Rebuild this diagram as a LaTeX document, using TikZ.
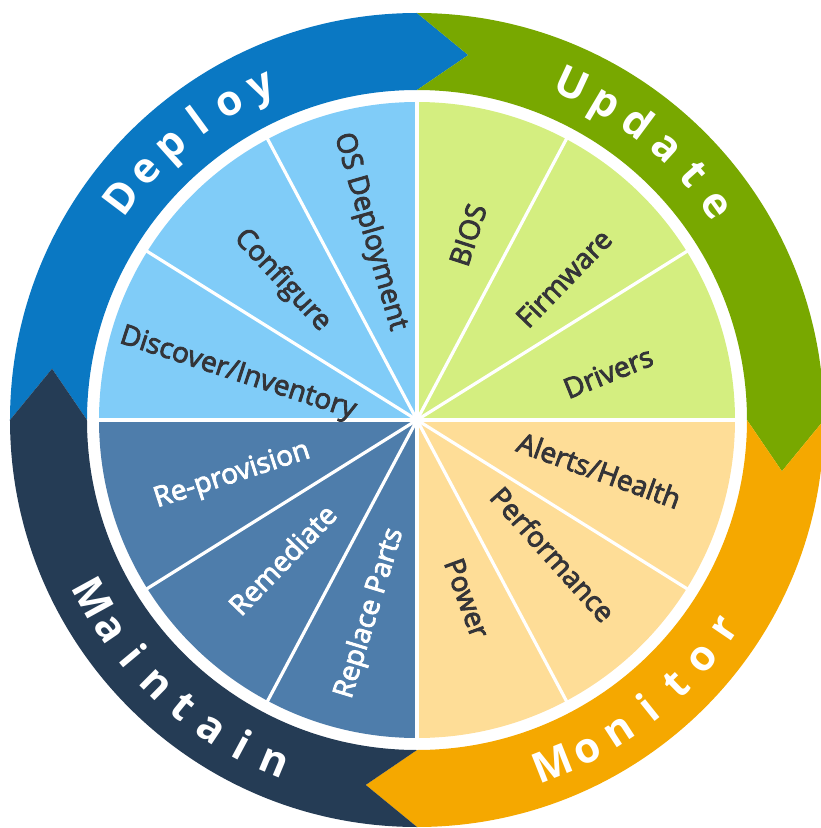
\documentclass[tikz,border=0pt]{standalone}
\usepackage{fontspec}
\setmainfont{Open Sans}
\newfontfamily\mediumfont[FakeBold=3]{Open Sans}
\definecolor{deployblue}{RGB}{10,120,195}
\definecolor{updategreen}{RGB}{120,168,0}
\definecolor{monitororange}{RGB}{245,168,0}
\definecolor{maintainnavy}{RGB}{37,60,85}
\definecolor{pieblue}{RGB}{128,204,248}
\definecolor{piegreen}{RGB}{212,238,128}
\definecolor{piepeach}{RGB}{254,221,151}
\definecolor{piesteel}{RGB}{78,125,171}
\definecolor{labelgray}{RGB}{52,52,56}
\begin{document}
\begin{tikzpicture}[x=1pt, y=1pt,
    wedgelabel/.style={font=\mediumfont\fontsize{28}{30}\selectfont, text=labelgray, inner sep=0pt},
    darklabel/.style={wedgelabel, text=white},
    ringletter/.style={font=\fontsize{42}{44}\selectfont\bfseries, text=white, inner sep=0pt, anchor=base},
    spoke/.style={white, line width=3.2pt}]
  \useasboundingbox (-417,-408) rectangle (403,420);

  % outer ring, one arrow per phase
  \foreach \a/\col in {180/deployblue, 90/updategreen, 0/monitororange, -90/maintainnavy}
    \fill[\col] (\a:407) arc[start angle=\a, end angle=\a-90, radius=407] -- ({\a-98}:368.5)
      -- ({\a-90}:330) arc[start angle=\a-90, end angle=\a, radius=330] -- ({\a-8}:368.5) -- cycle;

  % inner pie
  \foreach \a/\col in {90/pieblue, 0/piegreen, -90/piepeach, 180/piesteel}
    \fill[\col] (0,0) -- (\a:318) arc[start angle=\a, end angle=\a+90, radius=318] -- cycle;
  \foreach \t in {0,32,62,90,118,148,180,212,242,270,298,328}
    \draw[spoke] (0,0) -- (\t:319);

  % wedge labels
  \node[wedgelabel, rotate=-74] (osdeploy) at (104:194) {OS Deployment};
  \node[wedgelabel, rotate=-47] (configure) at (134:194) {Configure};
  \node[wedgelabel, rotate=-18] (discover) at (165.6:185) {Discover/Inventory};
  \node[wedgelabel, rotate=72] (bios) at (74.6:192) {BIOS};
  \node[wedgelabel, rotate=46] (firmware) at (44:204) {Firmware};
  \node[wedgelabel, rotate=22] (drivers) at (14:197) {Drivers};
  \node[wedgelabel, rotate=-20] (alerts) at (-15.4:189) {Alerts/Health};
  \node[wedgelabel, rotate=-48] (performance) at (-44.6:191) {Performance};
  \node[wedgelabel, rotate=-70] (power) at (-74.3:185) {Power};
  \node[darklabel, rotate=18] (reprovision) at (196.8:193) {Re-provision};
  \node[darklabel, rotate=46] (remediate) at (226:194) {Remediate};
  \node[darklabel, rotate=73] (replace) at (256.3:199) {Replace Parts};

  % ring titles
  \foreach \ch [count=\i from 0] in {D,e,p,l,o,y}
    \node[ringletter, rotate={53-5.6*\i}] (deploy\i) at ({143-5.6*\i}:356) {\ch};
  \foreach \ch [count=\i from 0] in {U,p,d,a,t,e}
    \node[ringletter, rotate={-24.8-5.9*\i}] (update\i) at ({65.2-5.9*\i}:356) {\ch};
  \foreach \ch [count=\i from 0] in {M,o,n,i,t,o,r}
    \node[ringletter, rotate={21.6+5.7*\i}] (monitor\i) at ({-68.4+5.7*\i}:384) {\ch};
  \foreach \ch [count=\i from 0] in {M,a,i,n,t,a,i,n}
    \node[ringletter, rotate={298.8+5.5*\i}] (maintain\i) at ({208.8+5.5*\i}:384) {\ch};
\end{tikzpicture}
\end{document}
